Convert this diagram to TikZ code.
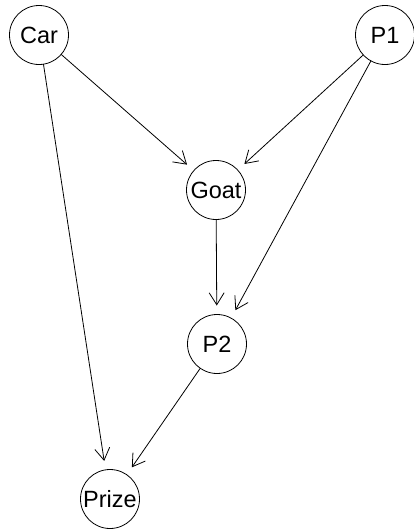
\documentclass[tikz,border=0pt]{standalone}
\usepackage{fontspec}
\setmainfont{Liberation Sans}
\usetikzlibrary{arrows.meta}
\begin{document}
\begin{tikzpicture}[x=1pt,y=-1pt,
  vnode/.style={circle,draw,line width=0.8pt,minimum size=59pt,inner sep=0pt,outer sep=0pt,font=\fontsize{23.5}{25}\selectfont},
  edge/.style={line width=0.8pt,shorten >=9pt,-{Straight Barb[length=12pt,width=15pt,line width=0.8pt]}}]
\useasboundingbox (0,0) rectangle (414,531);
\node[vnode] (car) at (39,35) {Car};
\node[vnode] (p1) at (385,35) {P1};
\node[vnode] (goat) at (216,190) {Goat};
\node[vnode] (p2) at (217,344) {P2};
\node[vnode] (prize) at (110,499) {Prize};
\draw[edge] (car) -- (goat);
\draw[edge] (car) -- (prize);
\draw[edge] (p1) -- (goat);
\draw[edge] (p1) -- (p2);
\draw[edge] (goat) -- (p2);
\draw[edge] (p2) -- (prize);
\end{tikzpicture}
\end{document}
